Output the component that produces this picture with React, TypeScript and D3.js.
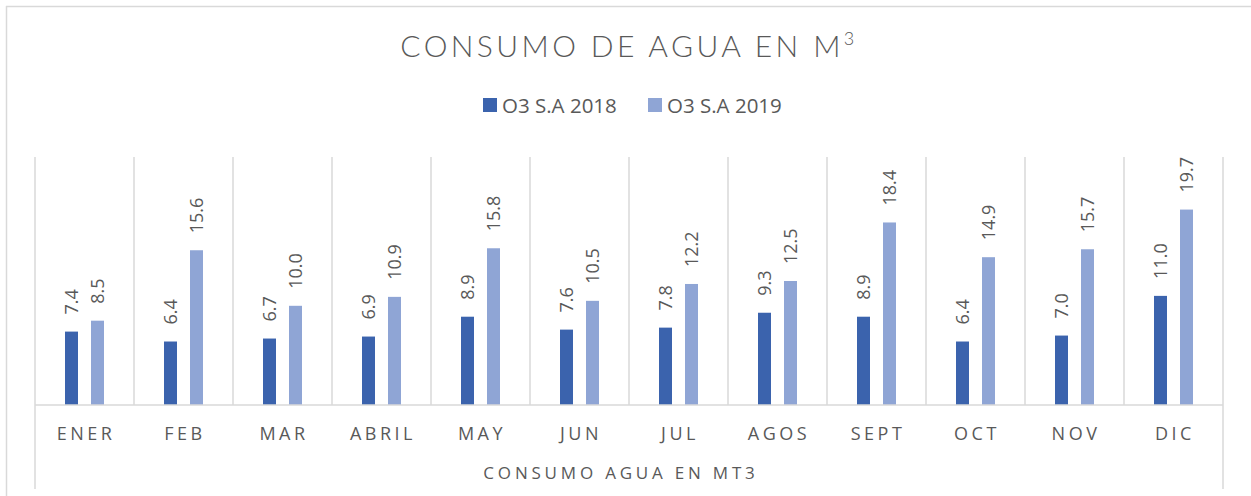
import React from "react";
import * as d3 from "d3";

const categories = ["ENER", "FEB", "MAR", "ABRIL", "MAY", "JUN", "JUL", "AGOS", "SEPT", "OCT", "NOV", "DIC"];
const seriesNames = ["O3 S.A 2018", "O3 S.A 2019"];
const values2018 = [7.4, 6.4, 6.7, 6.9, 8.9, 7.6, 7.8, 9.3, 8.9, 6.4, 7.0, 11.0];
const values2019 = [8.5, 15.6, 10.0, 10.9, 15.8, 10.5, 12.2, 12.5, 18.4, 14.9, 15.7, 19.7];
const colors = ["#3B63AD", "#8FA5D5"];

const W = 1251;
const H = 496;
const plot = { left: 35, right: 1223, top: 157, bottom: 405 };

export default function App() {
  const x0 = d3.scaleBand<string>().domain(categories).range([plot.left, plot.right]).padding(0);
  const y = d3.scaleLinear().domain([0, 25]).range([plot.bottom, plot.top]);
  const x1 = d3.scaleBand<string>().domain(seriesNames).range([-19.5, 19.5]).paddingInner(0.5).paddingOuter(0);
  const seriesValues = [values2018, values2019];
  const font = "'Open Sans', 'Noto Sans', sans-serif";
  const grid = "#D9D9D9";

  const boundaries = categories.map((c) => x0(c)!).concat([plot.right]);

  return (
    <div style={{ position: "fixed", left: 0, top: 0 }}>
      <svg width={W} height={H} style={{ display: "block", background: "#fff" }}>
        {/* chart border */}
        <line x1={6} y1={6.5} x2={W} y2={6.5} stroke={grid} strokeWidth={1.5} />
        <line x1={6.5} y1={6} x2={6.5} y2={H} stroke={grid} strokeWidth={1.5} />

        {/* title */}
        <text x={629} y={57} textAnchor="middle" fontFamily="Lato, 'DejaVu Sans', sans-serif" fontSize={30}
          fontWeight={300} fill="#595959" letterSpacing={3.4}>
          CONSUMO DE AGUA EN M
          <tspan fontSize={18} dy={-12}>3</tspan>
        </text>

        {/* legend */}
        {seriesNames.map((s, i) => {
          const lx = i === 0 ? 483 : 648;
          return (
            <g key={s}>
              <rect x={lx} y={98} width={14} height={14} fill={colors[i]} />
              <text x={lx + 19} y={113} fontFamily={font} fontSize={20.5} fill="#595959">{s}</text>
            </g>
          );
        })}

        {/* vertical gridlines at category boundaries */}
        {boundaries.map((bx, i) => {
          const outer = i === 0 || i === boundaries.length - 1;
          return (
            <line key={i} x1={bx} x2={bx} y1={plot.top} y2={outer ? 489 : plot.bottom} stroke={grid} strokeWidth={1.5} />
          );
        })}

        {/* bars */}
        {categories.map((c, ci) => {
          const cx = x0(c)! + x0.bandwidth() / 2;
          return (
            <g key={c}>
              {seriesNames.map((s, si) => {
                const v = seriesValues[si][ci];
                const bx = cx + x1(s)!;
                const bw = x1.bandwidth();
                const top = y(v);
                const lx = bx + bw / 2;
                const ly = top - 17;
                return (
                  <g key={s}>
                    <rect x={bx} y={top} width={bw} height={plot.bottom - top} fill={colors[si]} />
                    <text x={lx} y={ly} transform={`rotate(-90 ${lx} ${ly})`} dy="0.35em"
                      fontFamily={font} fontSize={18} fill="#595959">{v.toFixed(1)}</text>
                  </g>
                );
              })}
            </g>
          );
        })}

        {/* baseline */}
        <line x1={plot.left} x2={plot.right} y1={plot.bottom} y2={plot.bottom} stroke={grid} strokeWidth={1.5} />

        {/* category labels */}
        {categories.map((c) => (
          <text key={c} x={x0(c)! + x0.bandwidth() / 2 + 1.5} y={440} textAnchor="middle" fontFamily={font}
            fontSize={18} fill="#595959" letterSpacing={3.5}>{c}</text>
        ))}

        {/* axis group title */}
        <text x={(plot.left + plot.right) / 2 - 8} y={479} textAnchor="middle" fontFamily={font} fontSize={17}
          fill="#595959" letterSpacing={3.8}>CONSUMO AGUA EN MT3</text>
      </svg>
    </div>
  );
}
